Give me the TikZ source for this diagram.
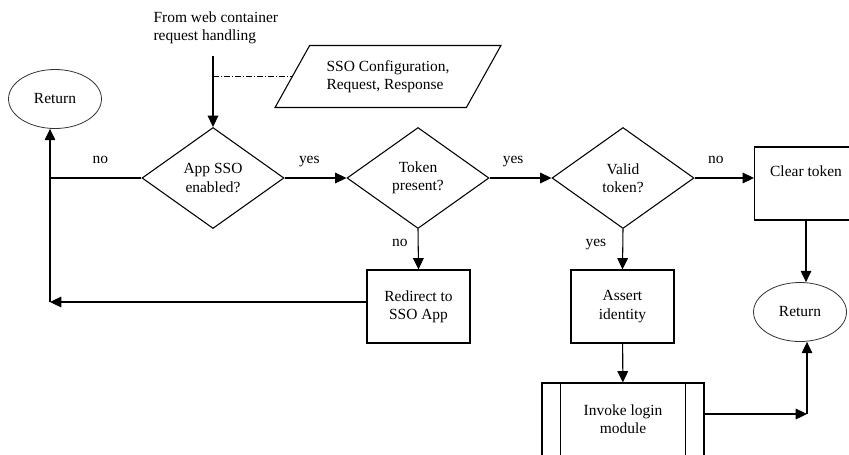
\documentclass[tikz,border=0pt]{standalone}
\usepackage{fontspec}
\setmainfont{Liberation Serif}
\usetikzlibrary{arrows.meta,shapes.geometric}

\tikzset{
  decision/.style={draw, diamond, minimum width=106.5pt, minimum height=75.75pt, inner sep=0pt, align=center},
  process/.style={draw, rectangle, minimum width=77.25pt, minimum height=54.75pt, align=center},
  terminal/.style={draw=black!80, ellipse, line width=0.6pt, minimum width=69.75pt, minimum height=44.25pt},
  io/.style={draw, trapezium, trapezium left angle=55, trapezium right angle=125, trapezium stretches=true,
    minimum width=169.5pt, minimum height=46.5pt, align=left},
  cond/.style={inner sep=0pt, anchor=base, yshift=11pt},
  vcond/.style={inner sep=0pt, anchor=base east, xshift=#1},
  dashdot/.style={dash pattern=on 4.5pt off 1.5pt on 0.75pt off 1.5pt},
}

\begin{document}
\begin{tikzpicture}[x=0.75pt, y=-0.75pt, line width=0.8pt, font=\fontsize{11.6}{13.8}\selectfont,
    >={Triangle[length=8.5pt,width=8pt]}]
  \useasboundingbox (0,0) rectangle (849,454);
  \clip (0,0) rectangle (849,454);

  \node[align=left, inner sep=0pt, anchor=north west] (from) at (153,11) {From web container\\request handling};
  \node[io] (cfg) at (388,76.5) {SSO Configuration,\\Request, Response};
  \node[terminal] (retl) at (55,99) {Return};
  \node[decision] (sso) at (213,178) {App SSO\\enabled?};
  \node[decision] (tok) at (418,178) {Token\\present?};
  \node[decision] (valid) at (623,178) {Valid\\token?};
  \node[process, text depth=18.5pt] (clear) at (806,183.5) {Clear token};
  \node[process] (redirect) at (418.5,306.5) {Redirect to\\SSO App};
  \node[process] (assert) at (622.5,306.5) {Assert\\identity};
  \node[terminal] (retr) at (800,312) {Return};
  \node[process, minimum width=121.5pt] (invoke) at (623,419.5) {Invoke login\\module};
  \draw ([xshift=14.25pt]invoke.north west) -- ([xshift=14.25pt]invoke.south west);
  \draw ([xshift=-14.25pt]invoke.north east) -- ([xshift=-14.25pt]invoke.south east);

  \coordinate (entry) at (213,56);
  \coordinate (lc) at (50,178);
  \coordinate (lb) at (50,302);
  \coordinate (join) at (807,414);

  \draw[->] (entry) to (sso);
  \draw[dashdot] (entry |- cfg.left side) to (cfg.left side);
  \draw (sso.west) to node[cond, pos=.45] (no1) {no} (lc);
  \draw[->] (lb) to (lc |- retl.south);
  \draw[->] (sso.east) to node[cond, pos=.4] (yes1) {yes} (tok.west);
  \draw[->] (tok.south) to node[vcond=-7.5pt, pos=.42] (no2) {no} (redirect.north);
  \draw[->] (redirect.west |- lb) to (lb);
  \draw[->] (tok.east) to node[cond, pos=.38] (yes2) {yes} (valid.west);
  \draw[->] (valid.south) to node[vcond=-12pt, pos=.42] (yes3) {yes} (assert.north);
  \draw[->] (valid.east) to node[cond, pos=.36] (no3) {no} (valid.east -| clear.west);
  \draw[->] (clear.south) to (clear.south |- retr.north);
  \draw[->] (assert) to (invoke);
  \draw[->] (invoke.east |- join) to (join);
  \draw[->] (join) to (join |- retr.south);
\end{tikzpicture}
\end{document}
